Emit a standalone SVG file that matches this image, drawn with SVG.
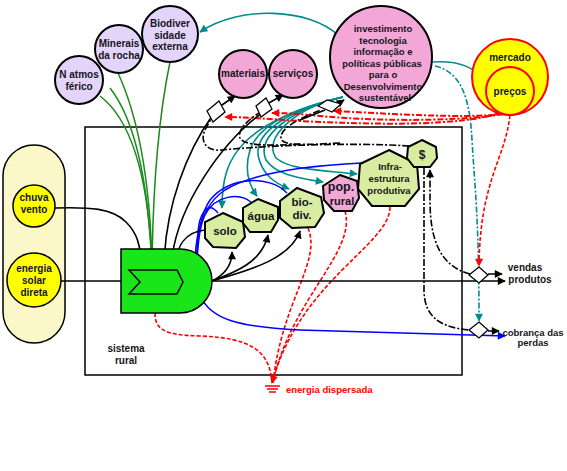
<svg xmlns="http://www.w3.org/2000/svg" width="567" height="471" viewBox="0 0 567 471">
<defs>
<style>
.lav{fill:#e3d4fa;stroke:#000;stroke-width:2}
.pink{fill:#f2a7d6;stroke:#000;stroke-width:2}
.pg{fill:#d9eda2;stroke:#000;stroke-width:2}
.yel{fill:#ffff00;stroke:#000;stroke-width:1.5}
.t{font-family:"Liberation Sans",Arial,sans-serif;font-weight:bold;font-size:10px;fill:#151520;text-anchor:middle}
.s{font-size:11.5px}
.inv{font-size:9.5px}
.bk{fill:none;stroke:#000;stroke-width:1.6}
.bd{fill:none;stroke:#000;stroke-width:1.6;stroke-dasharray:7,2,2,2}
.gr{fill:none;stroke:#1a8a1a;stroke-width:1.5}
.rd{fill:none;stroke:#ff0000;stroke-width:1.6;stroke-dasharray:4,2}
.rd2{fill:none;stroke:#ff0000;stroke-width:2;stroke-dasharray:6,2,2,2}
.tl{fill:none;stroke:#008c8c;stroke-width:1.6}
.tld{fill:none;stroke:#008c8c;stroke-width:1.6;stroke-dasharray:6,2,2,2}
.bl{fill:none;stroke:#0000ff;stroke-width:1.5}
.dia{fill:#fff;stroke:#000;stroke-width:1.3}
</style>
<marker id="ak" viewBox="0 0 10 10" refX="9" refY="5" markerWidth="9" markerHeight="8" orient="auto" markerUnits="userSpaceOnUse"><path d="M0,0 L10,5 L0,10 Z" fill="#000"/></marker>
<marker id="ar" viewBox="0 0 10 10" refX="9" refY="5" markerWidth="9" markerHeight="8" orient="auto" markerUnits="userSpaceOnUse"><path d="M0,0 L10,5 L0,10 Z" fill="#ff0000"/></marker>
<marker id="at" viewBox="0 0 10 10" refX="9" refY="5" markerWidth="9" markerHeight="8" orient="auto" markerUnits="userSpaceOnUse"><path d="M0,0 L10,5 L0,10 Z" fill="#008c8c"/></marker>
<marker id="ab" viewBox="0 0 10 10" refX="9" refY="5" markerWidth="9" markerHeight="8" orient="auto" markerUnits="userSpaceOnUse"><path d="M0,0 L10,5 L0,10 Z" fill="#0000ff"/></marker>
<marker id="ag" viewBox="0 0 10 10" refX="9" refY="5" markerWidth="9" markerHeight="8" orient="auto" markerUnits="userSpaceOnUse"><path d="M0,0 L10,5 L0,10 Z" fill="#1a8a1a"/></marker>
</defs>
<rect width="567" height="471" fill="#fff"/>

<g id="sistema-rural">
<rect x="85" y="127" width="377" height="248" fill="#fff" stroke="#000" stroke-width="1.5"/>
<text class="t" x="126" y="352">sistema</text>
<text class="t" x="126" y="364">rural</text>
</g>

<g id="fontes">
<rect x="3" y="145" width="62" height="198" rx="31" fill="#fbf7c9" stroke="#000" stroke-width="1.5"/>
</g>

<g id="chuva-vento">
<circle class="yel" cx="34" cy="206" r="21"/>
<text class="t" x="34" y="201">chuva</text>
<text class="t" x="34" y="213">vento</text>
</g>
<g id="energia-solar">
<circle class="yel" cx="34" cy="280" r="27"/>
<text class="t" x="34" y="272">energia</text>
<text class="t" x="34" y="284">solar</text>
<text class="t" x="34" y="296">direta</text>
</g>

<g id="connectors">
<!-- green inputs -->
<path class="gr" d="M100,96 C125,115 148,160 152,266" marker-end="url(#ag)"/>
<path class="gr" d="M118,73 C135,110 150,170 152,266" marker-end="url(#ag)"/>
<path class="gr" d="M170,62 C160,110 153,180 152,266"/>
<path class="gr" d="M110,88 C135,120 147,180 151,250"/>
<!-- teal -->
<path class="tl" d="M339,36 C310,8 240,5 200,32" marker-end="url(#at)"/>
<path class="tl" d="M433,62 C460,60 475,68 488,83" marker-end="url(#at)"/>
<path class="tld" d="M435,66 C462,72 470,100 472,140 C475,190 479,220 479,321" marker-end="url(#at)"/>
<path class="tl" d="M343,97 C295,108 262,125 245,142 C227,160 222,180 222,208" marker-end="url(#at)"/>
<path class="tl" d="M343,97 C295,108 258,125 250,150 C244,170 248,184 257,196" marker-end="url(#at)"/>
<path class="tl" d="M343,97 C295,108 255,130 258,155 C262,175 275,183 289,189" marker-end="url(#at)"/>
<path class="tl" d="M343,97 C295,108 255,135 266,160 C276,175 300,178 323,182" marker-end="url(#at)"/>
<path class="tl" d="M343,97 C295,108 262,138 276,158 C290,170 320,170 357,174" marker-end="url(#at)"/>
<!-- red from precos -->
<path class="rd" d="M510,115 C505,160 480,180 479,266" marker-end="url(#ar)"/>
<path class="rd2" d="M500,113 C460,126 380,125 300,121 C268,119 245,117 225,117" marker-end="url(#ar)"/>
<path class="rd2" d="M503,114 C450,123 360,120 320,116 C300,114 287,113 272,113" marker-end="url(#ar)"/>
<path class="rd2" d="M506,114 C460,119 380,113 334,111" marker-end="url(#ar)"/>
<!-- red to energia dispersada -->
<path class="rd" d="M155,313 C155,330 165,335 200,336 C250,338 270,350 272,383"/>
<path class="rd" d="M308,228 C322,262 282,300 273,383"/>
<path class="rd" d="M345,211 C357,252 290,300 273,383"/>
<path class="rd" d="M390,207 C390,245 300,280 272,383" marker-end="url(#ar)"/>
<!-- blue depreciation -->
<path class="bl" d="M362,163 C320,165 258,170 225,190 C195,210 190,260 200,295 C210,320 240,327 300,330 L505,336" marker-end="url(#ab)"/>
<path class="bl" d="M287,193 C270,175 230,176 210,200 C200,215 197,240 197,262"/>
<path class="bl" d="M252,203 C240,192 215,195 205,215 C200,225 198,240 197,262"/>
<path class="bl" d="M218,213 C212,205 205,205 200,220 C197,230 197,245 197,262"/>
<!-- black inputs to producer -->
<path class="bk" d="M55,208 C90,207 112,208 126,222 C137,233 141,245 141,267" marker-end="url(#ak)"/>
<path class="bk" d="M61,281 L140,281" marker-end="url(#ak)"/>
<path class="bk" d="M212,116 C188,150 165,205 164,267" marker-end="url(#ak)"/>
<path class="bk" d="M262,113 C225,140 175,205 171,267" marker-end="url(#ak)"/>
<path class="bk" d="M205,230 C186,232 176,245 176,267" marker-end="url(#ak)"/>
<!-- diamonds to circles -->
<path class="bk" d="M219,107 L235,96" marker-end="url(#ak)"/>
<path class="bk" d="M267,104 L283,95" marker-end="url(#ak)"/>
<path class="bk" d="M336,105 L344,100" marker-end="url(#ak)"/>
<path class="bk" d="M300,120 L325,110"/>
<!-- producer outputs -->
<path class="bk" d="M183,281 L505,281" marker-end="url(#ak)"/>
<path class="bk" d="M212,281 C224,275 232,266 232,252" marker-end="url(#ak)"/>
<path class="bk" d="M212,281 C236,272 262,262 268,235" marker-end="url(#ak)"/>
<path class="bk" d="M212,281 C246,271 290,260 300,231" marker-end="url(#ak)"/>
<!-- money (dashed) -->
<path class="bd" d="M409,146 C350,142 260,146 222,150 C205,152 200,140 205,130 L211,119"/>
<path class="bd" d="M300,144 C270,146 244,146 240,138 C237,130 248,120 259,113"/>
<path class="bd" d="M340,143 C300,145 282,146 281,138 C280,128 300,118 321,110"/>
<path class="bd" d="M470,274 C440,266 430,240 430,200 L430,170" marker-end="url(#ak)"/>
<path class="bd" d="M424,168 L424,290 C424,320 445,328 470,330"/>
<path class="bd" d="M488,274 L502,274" marker-end="url(#ak)"/>
<path class="bd" d="M488,331 L499,331" marker-end="url(#ak)"/>
<!-- transaction diamonds -->
<polygon class="dia" points="207,111 219,101 225,112 213,122"/>
<polygon class="dia" points="256,106 266,98 272,109 261,117"/>
<polygon class="dia" points="318,106 327,100 341,104 332,112"/>
<polygon class="dia" points="469,275 479,267 488,275 479,283"/>
<polygon class="dia" points="469,330 479,322 488,330 479,338"/>
<!-- ground -->
<path d="M265,386 H280 M267,389 H278 M269,392 H276" stroke="#ff0000" stroke-width="1.5"/>
</g>

<g id="produtor">
<path d="M121,249 H180 A32,32 0 0 1 180,313 H121 Z" fill="#19e619" stroke="#000" stroke-width="1.5"/>
<polygon points="129,270 177,270 183,282 177,294 129,294 140,282" fill="#19e619" stroke="#000" stroke-width="1.5"/>
</g>

<g id="n-atmosferico">
<circle class="lav" cx="79" cy="80" r="24"/>
<text class="t" x="79" y="78">N atmos</text>
<text class="t" x="79" y="90">férico</text>
</g>
<g id="minerais">
<circle class="lav" cx="119" cy="49" r="24"/>
<text class="t" x="119" y="47">Minerais</text>
<text class="t" x="119" y="59">da rocha</text>
</g>
<g id="biodiversidade">
<circle class="lav" cx="170" cy="34" r="28"/>
<text class="t" x="170" y="27">Biodiver</text>
<text class="t" x="170" y="39">sidade</text>
<text class="t" x="170" y="50">externa</text>
</g>
<g id="materiais">
<circle class="pink" cx="243" cy="74" r="24"/>
<text class="t" x="243" y="77">materiais</text>
</g>
<g id="servicos">
<circle class="pink" cx="293" cy="74" r="24"/>
<text class="t" x="293" y="77">serviços</text>
</g>
<g id="investimento">
<circle class="pink" cx="381" cy="57" r="51"/>
<text class="t inv" x="383" y="32">investimento</text>
<text class="t inv" x="383" y="43.5">tecnologia</text>
<text class="t inv" x="383" y="55">informação e</text>
<text class="t inv" x="382" y="66.5">políticas públicas</text>
<text class="t inv" x="383" y="78">para o</text>
<text class="t inv" x="383" y="89.5">Desenvolvimento</text>
<text class="t inv" x="385" y="101">sustentável</text>
</g>
<g id="mercado">
<circle cx="510" cy="77" r="38" fill="#ffff00" stroke="#ff0000" stroke-width="2"/>
<text class="t" x="510" y="61">mercado</text>
</g>
<g id="precos">
<circle cx="510" cy="91" r="24" fill="#ffff00" stroke="#ff0000" stroke-width="2"/>
<text class="t" x="510" y="95">preços</text>
</g>

<g id="solo">
<polygon class="pg" points="223,213 243,222 245,237 236,248 213,247 205,238 205,222"/>
<text class="t s" x="225" y="235">solo</text>
</g>
<g id="agua">
<polygon class="pg" points="258,199 278,207 278,220 271,232 250,232 243,223 243,208"/>
<text class="t s" x="261" y="220">água</text>
</g>
<g id="bio-div">
<polygon class="pg" points="297,188 321,197 324,213 315,227 292,228 280,218 280,201"/>
<text class="t s" x="302" y="206">bio-</text>
<text class="t s" x="302" y="219">div.</text>
</g>
<g id="pop-rural">
<polygon class="pink" points="340,175 357,181 359,198 352,211 334,211 324,200 323,186"/>
<text class="t" x="341" y="191" style="font-size:12.5px">pop.</text>
<text class="t" x="342" y="205" style="font-size:11px">rural</text>
</g>
<g id="infraestrutura">
<polygon class="pg" points="389,150 417,164 419,189 405,206 372,206 358,189 360,164"/>
<text class="t inv" x="390" y="170">Infra-</text>
<text class="t inv" x="389" y="182">estrutura</text>
<text class="t inv" x="389" y="194">produtiva</text>
</g>
<g id="dinheiro">
<polygon class="pg" points="422,140 436,147 437,158 430,167 414,167 407,158 408,147"/>
<text class="t" x="422" y="159" style="font-size:12px">$</text>
</g>

<g id="rotulos">
<text class="t" x="525" y="271">vendas</text>
<text class="t" x="530" y="283">produtos</text>
<text class="t" x="533" y="336" style="font-size:9.5px">cobrança das</text>
<text class="t" x="533" y="346" style="font-size:9.5px">perdas</text>
<text class="t" x="286" y="393" style="text-anchor:start;fill:#ff0000;font-size:9.5px">energia dispersada</text>
</g>
</svg>
